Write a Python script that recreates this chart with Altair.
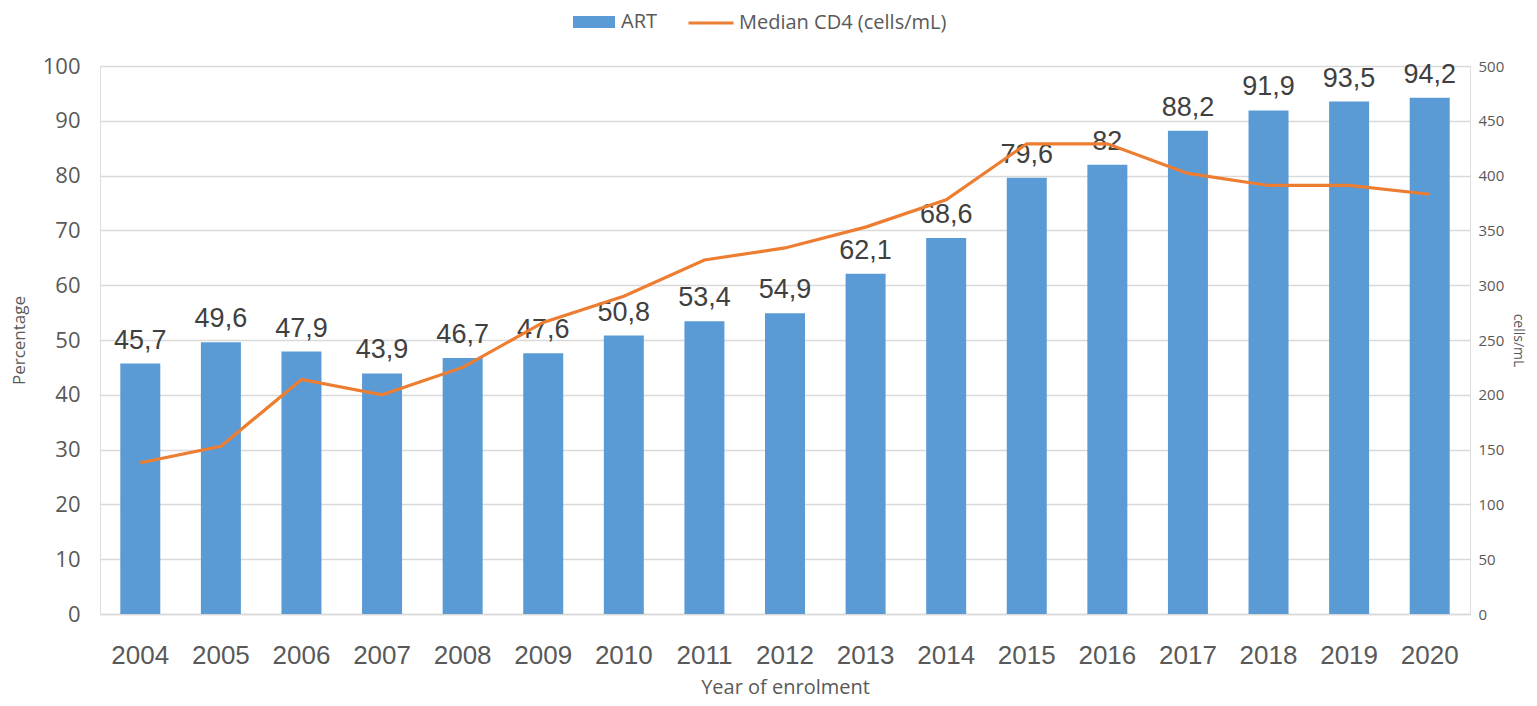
import altair as alt
import pandas as pd

years = [str(y) for y in range(2004, 2021)]
art = [45.7, 49.6, 47.9, 43.9, 46.7, 47.6, 50.8, 53.4, 54.9, 62.1, 68.6, 79.6, 82.0, 88.2, 91.9, 93.5, 94.2]
art_labels = ["45,7", "49,6", "47,9", "43,9", "46,7", "47,6", "50,8", "53,4", "54,9", "62,1",
              "68,6", "79,6", "82", "88,2", "91,9", "93,5", "94,2"]
cd4 = [138, 153, 214, 200, 225, 266, 290, 323, 334, 353, 378, 429, 429, 402, 391, 391, 383]
left_ticks = list(range(0, 101, 10))
right_ticks = list(range(0, 501, 50))

df = pd.DataFrame({
    "year": years,
    "art": art,
    "label": art_labels,
    "cd4": cd4,
    "s_art": ["ART"] * len(years),
    "s_cd4": ["Median CD4 (cells/mL)"] * len(years),
})

NARROW = "Liberation Sans"
UI = "Open Sans"
GRAY = "#595959"

x = alt.X(
    "year:N",
    title="Year of enrolment",
    scale=alt.Scale(paddingInner=0.5, paddingOuter=0.25),
    axis=alt.Axis(
        labelAngle=0, labelFont=NARROW, labelFontSize=26, labelColor=GRAY,
        labelPadding=28, ticks=False, tickSize=0,
        domainColor="#D9D9D9", domainWidth=1.5,
        titleFont=UI, titleFontSize=20, titleFontWeight="normal", titleColor=GRAY,
        titlePadding=9,
    ),
)

y_left = alt.Y(
    "art:Q",
    title="Percentage",
    scale=alt.Scale(domain=[0, 100], nice=False),
    axis=alt.Axis(
        values=left_ticks, labelFont=UI, labelFontSize=22, labelColor=GRAY,
        labelPadding=20, ticks=False, tickSize=0, domain=False,
        gridColor="#D9D9D9", gridWidth=1.3,
        titleFont=UI, titleFontSize=17, titleFontWeight="normal", titleColor=GRAY,
        titlePadding=14,
    ),
)

bars = alt.Chart(df).mark_bar(size=40).encode(
    x=x,
    y=y_left,
    fill=alt.Fill(
        "s_art:N",
        scale=alt.Scale(domain=["ART"], range=["#5B9BD5"]),
        legend=alt.Legend(
            title=None, orient="none", legendX=473, legendY=-65, padding=0,
            symbolType="M-1,-0.29H1V0.29H-1Z", symbolSize=1764, symbolStrokeWidth=0,
            labelFont=UI, labelFontSize=20, labelColor=GRAY, labelOffset=6,
            labelLimit=400,
        ),
    ),
)

text = alt.Chart(df).mark_text(
    baseline="alphabetic", dy=-15, font=NARROW, fontSize=27, color="#404040"
).encode(
    x=x,
    y=y_left,
    text="label:N",
)

line = alt.Chart(df).mark_line(strokeWidth=3.2).encode(
    x=x,
    y=alt.Y(
        "cd4:Q",
        title="cells/mL",
        scale=alt.Scale(domain=[0, 500], nice=False),
        axis=alt.Axis(
            orient="right", values=right_ticks, labelFont=UI, labelFontSize=15,
            labelColor=GRAY, labelPadding=8, ticks=False, tickSize=0, domain=False,
            grid=False,
            titleFont=UI, titleFontSize=14, titleFontWeight="normal", titleColor=GRAY,
            titlePadding=7,
        ),
    ),
    stroke=alt.Stroke(
        "s_cd4:N",
        scale=alt.Scale(domain=["Median CD4 (cells/mL)"], range=["#ED7D31"]),
        legend=alt.Legend(
            title=None, orient="none", legendX=587, legendY=-67, padding=0,
            symbolType="stroke", symbolSize=2025, symbolStrokeWidth=3,
            labelFont=UI, labelFontSize=20, labelColor=GRAY, labelOffset=4,
            labelLimit=400,
        ),
    ),
)

chart = alt.layer(alt.layer(bars, text), line).resolve_scale(
    y="independent", fill="independent", stroke="independent"
).properties(
    width=1370, height=548,
    autosize=alt.AutoSizeParams(type="none"),
    padding={"left": 92, "top": 58, "right": 59, "bottom": 84},
).configure_view(strokeWidth=0, stroke="transparent").configure(background="white")

chart.save("out.html", embed_options={"renderer": "svg", "actions": False})
